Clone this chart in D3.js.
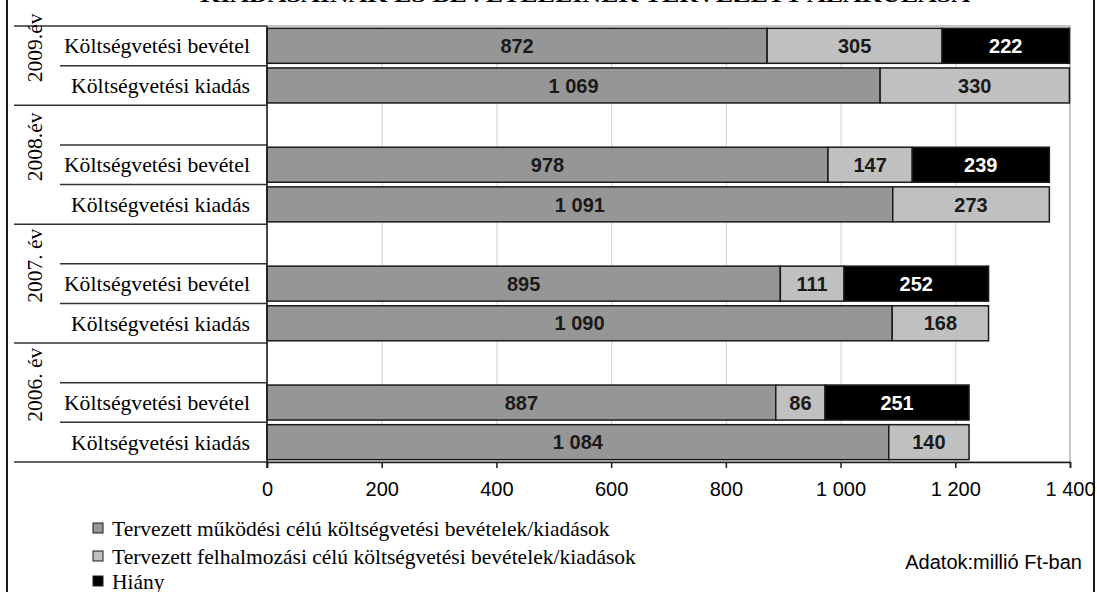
<!DOCTYPE html>
<html lang="hu">
<head>
<meta charset="utf-8">
<script src="https://cdn.jsdelivr.net/npm/d3@7"></script>
<style>
  html, body { margin: 0; padding: 0; background: #fff; }
  svg { display: block; }
</style>
</head>
<body>
<svg id="chart" width="1097" height="592"></svg>
<script>
// Budget years, newest on top
const years = ["2009.év", "2008.év", "2007. év", "2006. év"];
const rowLabels = ["Költségvetési bevétel", "Költségvetési kiadás"];

// millió Ft: [működési, felhalmozási, hiány]
const revenue2009 = [872, 305, 222];
const revenue2008 = [978, 147, 239];
const revenue2007 = [895, 111, 252];
const revenue2006 = [887, 86, 251];
// millió Ft: [működési, felhalmozási]
const expense2009 = [1069, 330];
const expense2008 = [1091, 273];
const expense2007 = [1090, 168];
const expense2006 = [1084, 140];

const revenues = [revenue2009, revenue2008, revenue2007, revenue2006];
const expenses = [expense2009, expense2008, expense2007, expense2006];

const seriesNames = [
  "Tervezett működési célú költségvetési bevételek/kiadások",
  "Tervezett felhalmozási célú költségvetési bevételek/kiadások",
  "Hiány"
];
const seriesColors = ["#969696", "#c0c0c0", "#000000"];
const tickValues = [0, 200, 400, 600, 800, 1000, 1200, 1400];

const title = "KIADÁSAINAK ÉS BEVÉTELEINEK TERVEZETT ALAKULÁSA";
const unitNote = "Adatok:millió Ft-ban";

// ---- rows: each year gets a blank spacer row above it, except the first
const rows = [];
years.forEach((y, gi) => {
  if (gi > 0) rows.push({ key: y + "|gap", group: gi, gap: true });
  rows.push({ key: y + "|rev", group: gi, label: rowLabels[0], values: revenues[gi] });
  rows.push({ key: y + "|exp", group: gi, label: rowLabels[1], values: expenses[gi] });
});

const svg = d3.select("#chart");
const plot = { left: 267, right: 1070, top: 26, bottom: 462 };

const x = d3.scaleLinear().domain([0, 1400]).range([plot.left, plot.right]);
const y = d3.scaleBand()
  .domain(rows.map(r => r.key))
  .range([plot.top, plot.bottom])
  .paddingInner(0.117)
  .paddingOuter(0.0585);
const step = y.step();
const rowTop = key => y(key) - (step - y.bandwidth()) / 2;

const hu = d3.formatLocale({ decimal: ",", thousands: "\u00a0", grouping: [3], currency: ["", " Ft"] });
const fmt = hu.format(",d");

const serif = "'Liberation Serif', 'Times New Roman', serif";
const sans = "'Liberation Sans', Arial, sans-serif";

// outer frame edges
svg.append("line").attr("x1", 7).attr("x2", 7).attr("y1", 0).attr("y2", 592)
  .attr("stroke", "#1a1a1a").attr("stroke-width", 2);
svg.append("line").attr("x1", 1094).attr("x2", 1094).attr("y1", 0).attr("y2", 592)
  .attr("stroke", "#1a1a1a").attr("stroke-width", 2);

// title (runs past the top edge)
svg.append("text")
  .attr("x", 585).attr("y", 2)
  .attr("text-anchor", "middle")
  .attr("font-family", serif).attr("font-weight", "bold").attr("font-size", 22)
  .attr("textLength", 770).attr("lengthAdjust", "spacingAndGlyphs")
  .text(title);

// plot area border and vertical gridlines
svg.append("rect")
  .attr("x", plot.left).attr("y", plot.top)
  .attr("width", plot.right - plot.left).attr("height", plot.bottom - plot.top)
  .attr("fill", "none").attr("stroke", "#a0a0a0").attr("stroke-width", 1.2);
svg.append("g").selectAll("line")
  .data(tickValues.slice(1, -1))
  .join("line")
  .attr("x1", d => x(d) + 0.5).attr("x2", d => x(d) + 0.5)
  .attr("y1", plot.top).attr("y2", plot.bottom)
  .attr("stroke", "#d0d0d0").attr("stroke-width", 1);

// row separators in the label column
const boundaries = [];
rows.forEach((r, i) => {
  const isGroupStart = i === 0 || r.gap;
  boundaries.push({ y: rowTop(r.key), group: isGroupStart });
});
boundaries.push({ y: plot.bottom, group: true });
svg.append("g").selectAll("line")
  .data(boundaries)
  .join("line")
  .attr("x1", d => d.group ? 14 : 60).attr("x2", plot.left)
  .attr("y1", d => d.y).attr("y2", d => d.y)
  .attr("stroke", "#333").attr("stroke-width", 1.5);

// year labels
svg.append("g").selectAll("text")
  .data(years)
  .join("text")
  .attr("transform", (d, gi) => {
    const gr = rows.filter(r => r.group === gi);
    const top = rowTop(gr[0].key);
    const bottom = rowTop(gr[gr.length - 1].key) + step;
    const cy = (top + bottom) / 2 - step * 0.45;
    return `translate(42,${cy}) rotate(-90)`;
  })
  .attr("text-anchor", "middle")
  .attr("font-family", serif).attr("font-size", 21.5).attr("fill", "#000")
  .text(d => d);

// row labels
const dataRows = rows.filter(r => !r.gap);
svg.append("g").selectAll("text")
  .data(dataRows)
  .join("text")
  .attr("x", 250)
  .attr("y", d => y(d.key) + y.bandwidth() / 2)
  .attr("dy", "0.35em")
  .attr("text-anchor", "end")
  .attr("font-family", serif).attr("font-size", 21.7).attr("fill", "#000")
  .text(d => d.label);

// stacked bars
const segments = [];
dataRows.forEach(r => {
  let acc = 0;
  r.values.forEach((v, si) => {
    segments.push({ row: r.key, series: si, x0: acc, x1: acc + v, value: v });
    acc += v;
  });
});

svg.append("g").selectAll("rect")
  .data(segments)
  .join("rect")
  .attr("x", d => x(d.x0))
  .attr("y", d => y(d.row))
  .attr("width", d => x(d.x1) - x(d.x0))
  .attr("height", y.bandwidth())
  .attr("fill", d => seriesColors[d.series])
  .attr("stroke", "#1a1a1a").attr("stroke-width", 1.5);

svg.append("g").selectAll("text")
  .data(segments)
  .join("text")
  .attr("x", d => (x(d.x0) + x(d.x1)) / 2)
  .attr("y", d => y(d.row) + y.bandwidth() / 2)
  .attr("dy", "0.36em")
  .attr("text-anchor", "middle")
  .attr("font-family", sans).attr("font-weight", "bold").attr("font-size", 20)
  .attr("fill", d => d.series === 2 ? "#fff" : "#1a1a1a")
  .text(d => fmt(d.value));

// value axis
const axis = svg.append("g")
  .attr("transform", `translate(0,${plot.bottom})`)
  .call(d3.axisBottom(x).tickValues(tickValues).tickFormat(fmt).tickSize(6).tickPadding(14));
axis.select(".domain").attr("stroke", "#1a1a1a").attr("stroke-width", 1.5);
axis.selectAll(".tick line").attr("stroke", "#1a1a1a").attr("stroke-width", 1.5);
axis.selectAll(".tick text")
  .attr("font-family", sans).attr("font-size", 20).attr("fill", "#000");

// category axis line
svg.append("line")
  .attr("x1", plot.left).attr("x2", plot.left)
  .attr("y1", plot.top).attr("y2", plot.bottom + 6)
  .attr("stroke", "#1a1a1a").attr("stroke-width", 1.5);

// legend
const legend = svg.append("g").selectAll("g")
  .data(seriesNames)
  .join("g")
  .attr("transform", (d, i) => `translate(93,${[528, 556, 581][i]})`);
legend.append("rect")
  .attr("x", 0).attr("y", -5).attr("width", 10).attr("height", 10)
  .attr("fill", (d, i) => seriesColors[i])
  .attr("stroke", "#1a1a1a").attr("stroke-width", 1);
legend.append("text")
  .attr("x", 19).attr("dy", "0.35em")
  .attr("font-family", serif).attr("font-size", 21.5).attr("fill", "#000")
  .text(d => d);

// unit note
svg.append("text")
  .attr("x", 1082).attr("y", 562).attr("dy", "0.35em")
  .attr("text-anchor", "end")
  .attr("font-family", sans).attr("font-size", 20).attr("fill", "#000")
  .text(unitNote);
</script>
</body>
</html>
